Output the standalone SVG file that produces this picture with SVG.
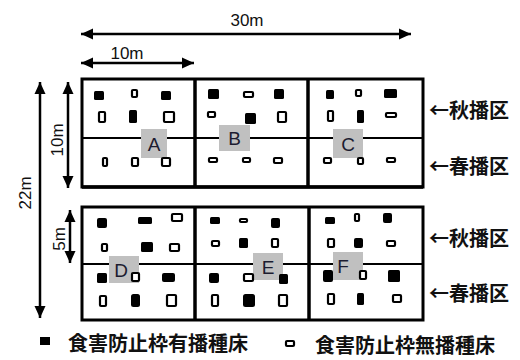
<svg xmlns="http://www.w3.org/2000/svg" width="520" height="360" viewBox="0 0 520 360">
<style>
.f{fill:#000}
.o{fill:#fff;stroke:#000;stroke-width:2.2}
.bd{fill:none;stroke:#000;stroke-width:3}
.dv{stroke:#000;stroke-width:3.5}
.md{stroke:#000;stroke-width:2}
.lb{fill:#c0c0c0}
.lt{font-family:"Liberation Sans",Arial,sans-serif;font-size:19px;fill:#1c1c30;text-anchor:middle}
.dm{font-family:"Liberation Sans",Arial,sans-serif;font-size:17px;fill:#111;text-anchor:middle}
.jp{font-family:"Noto Sans CJK JP","Noto Sans CJK SC",sans-serif;font-size:20px;font-weight:bold;fill:#111}
.ar{stroke:#000;stroke-width:2.5;fill:none;marker-start:url(#ah);marker-end:url(#ah)}
</style>
<defs>
<marker id="ah" viewBox="0 0 12 12" refX="12" refY="6" markerWidth="12" markerHeight="12" markerUnits="userSpaceOnUse" orient="auto-start-reverse">
<path d="M0,0.5 L12,6 L0,11.5 z" fill="#000"/>
</marker>
</defs>
<rect width="520" height="360" fill="#fff"/>

<g id="grid">
<rect class="bd" x="82" y="79" width="341" height="108"/>
<line class="md" x1="82" y1="138" x2="423" y2="138"/>
<line class="dv" x1="195" y1="79" x2="195" y2="187"/>
<line class="dv" x1="308" y1="79" x2="308" y2="187"/>
<line class="dv" x1="82" y1="187" x2="423" y2="187"/>
<rect class="bd" x="82" y="207" width="341" height="113"/>
<line class="md" x1="82" y1="264" x2="423" y2="264"/>
<line class="dv" x1="195" y1="207" x2="195" y2="320"/>
<line class="dv" x1="309" y1="207" x2="309" y2="320"/>
</g>

<g id="labels">
<rect class="lb" x="141" y="129" width="26" height="29"/><text class="lt" x="154" y="151">A</text>
<rect class="lb" x="219" y="125" width="31" height="26"/><text class="lt" x="234.5" y="145">B</text>
<rect class="lb" x="333" y="129" width="30" height="29"/><text class="lt" x="348" y="151">C</text>
<rect class="lb" x="109" y="256" width="30" height="27"/><text class="lt" x="121" y="277">D</text>
<rect class="lb" x="253" y="253" width="30" height="27"/><text class="lt" x="268" y="274">E</text>
<rect class="lb" x="333" y="252" width="30" height="28"/><text class="lt" x="343" y="273">F</text>
</g>

<g id="plotA">
<rect class="f" x="94" y="91" width="10" height="9" rx="1.5"/>
<rect class="o" x="132" y="90" width="5" height="7" rx="1"/>
<rect class="f" x="161" y="91" width="10" height="9" rx="1.5"/>
<rect class="o" x="99" y="112" width="6" height="10" rx="1"/>
<rect class="f" x="129" y="110" width="8" height="13" rx="1.5"/>
<rect class="o" x="164" y="112" width="10" height="10" rx="1"/>
<rect class="o" x="103" y="158" width="4" height="8" rx="1"/>
<rect class="o" x="132" y="158" width="6" height="8" rx="1"/>
<rect class="o" x="162" y="158" width="8" height="8" rx="1"/>
</g>
<g id="plotB">
<rect class="f" x="208" y="89" width="11" height="10" rx="1.5"/>
<rect class="o" x="244" y="92" width="9" height="5" rx="1"/>
<rect class="f" x="274" y="89" width="10" height="10" rx="1.5"/>
<rect class="o" x="208" y="112" width="7" height="5" rx="1"/>
<rect class="f" x="245" y="113" width="11" height="11" rx="1.5"/>
<rect class="o" x="278" y="112" width="8" height="10" rx="1"/>
<rect class="o" x="209" y="158" width="8" height="4" rx="1"/>
<rect class="o" x="243" y="158" width="7" height="4" rx="1"/>
<rect class="o" x="274" y="158" width="8" height="5" rx="1"/>
</g>
<g id="plotC">
<rect class="f" x="326" y="90" width="8" height="9" rx="1.5"/>
<rect class="o" x="356" y="90" width="5" height="6" rx="1"/>
<rect class="f" x="384" y="89" width="13" height="9" rx="1.5"/>
<rect class="o" x="328" y="111" width="5" height="10" rx="1"/>
<rect class="f" x="357" y="110" width="7" height="13" rx="1.5"/>
<rect class="o" x="386" y="113" width="10" height="4" rx="1"/>
<rect class="o" x="324" y="158" width="7" height="5" rx="1"/>
<rect class="o" x="358" y="158" width="5" height="6" rx="1"/>
<rect class="o" x="387" y="158" width="8" height="4" rx="1"/>
</g>
<g id="plotD">
<rect class="f" x="97" y="218" width="10" height="10" rx="2"/>
<rect class="f" x="138" y="217" width="14" height="7" rx="1.5"/>
<rect class="o" x="172" y="214" width="10" height="7" rx="1"/>
<rect class="o" x="102" y="244" width="5" height="7" rx="1"/>
<rect class="f" x="141" y="242" width="12" height="10" rx="1.5"/>
<rect class="o" x="170" y="244" width="9" height="7" rx="1"/>
<rect class="f" x="97" y="273" width="10" height="10" rx="1.5"/>
<rect class="o" x="132" y="273" width="7" height="8" rx="1"/>
<rect class="f" x="162" y="273" width="13" height="9" rx="2"/>
<rect class="o" x="100" y="296" width="6" height="10" rx="1"/>
<rect class="f" x="131" y="294" width="9" height="13" rx="2.5"/>
<rect class="o" x="167" y="295" width="9" height="11" rx="1"/>
</g>
<g id="plotE">
<rect class="f" x="210" y="217" width="10" height="7" rx="1.5"/>
<rect class="o" x="240" y="219" width="7" height="3" rx="1"/>
<rect class="f" x="271" y="218" width="9" height="10" rx="2"/>
<rect class="o" x="212" y="241" width="7" height="5" rx="1"/>
<rect class="f" x="239" y="238" width="9" height="10" rx="1.5"/>
<rect class="o" x="272" y="239" width="6" height="8" rx="1"/>
<rect class="f" x="209" y="273" width="10" height="10" rx="2"/>
<rect class="o" x="244" y="274" width="9" height="7" rx="1"/>
<rect class="f" x="279" y="274" width="9" height="10" rx="1.5"/>
<rect class="o" x="212" y="295" width="6" height="11" rx="1"/>
<rect class="f" x="243" y="294" width="12" height="13" rx="2.5"/>
<rect class="o" x="279" y="295" width="8" height="11" rx="1"/>
</g>
<g id="plotF">
<rect class="f" x="325" y="217" width="10" height="7" rx="1.5"/>
<rect class="o" x="355" y="214" width="4" height="7" rx="1"/>
<rect class="f" x="383" y="213" width="9" height="10" rx="2"/>
<rect class="o" x="328" y="239" width="6" height="8" rx="1"/>
<rect class="f" x="354" y="238" width="9" height="10" rx="2"/>
<rect class="o" x="387" y="241" width="8" height="5" rx="1"/>
<rect class="f" x="323" y="270" width="10" height="12" rx="2"/>
<rect class="o" x="360" y="271" width="6" height="8" rx="1"/>
<rect class="f" x="388" y="270" width="12" height="12" rx="1.5"/>
<rect class="o" x="328" y="294" width="6" height="10" rx="1"/>
<rect class="f" x="357" y="293" width="7" height="12" rx="1.5"/>
<rect class="o" x="393" y="295" width="8" height="7" rx="1"/>
</g>

<g id="connectors">
<line class="ar" x1="81" y1="34" x2="411" y2="34"/>
<line class="ar" x1="81" y1="63" x2="194" y2="63"/>
<line class="ar" x1="40" y1="82" x2="40" y2="318"/>
<line class="ar" x1="68" y1="82" x2="68" y2="188"/>
<line class="ar" x1="70" y1="210" x2="70" y2="263"/>
</g>

<g id="dimensions">
<text class="dm" x="247" y="26">30m</text>
<text class="dm" x="127" y="59">10m</text>
<text class="dm" transform="translate(31,193) rotate(-90)">22m</text>
<text class="dm" transform="translate(63,140) rotate(-90)">10m</text>
<text class="dm" transform="translate(65,239) rotate(-90)">5m</text>
</g>

<g id="zones">
<text class="jp" x="429" y="118">←秋播区</text>
<text class="jp" x="429" y="174">←春播区</text>
<text class="jp" x="429" y="246">←秋播区</text>
<text class="jp" x="429" y="301">←春播区</text>
</g>

<g id="legend">
<rect class="f" x="40" y="337" width="10" height="8"/>
<text class="jp" x="68" y="351">食害防止枠有播種床</text>
<rect class="o" x="286" y="341" width="8" height="5" rx="1"/>
<text class="jp" x="315" y="353">食害防止枠無播種床</text>
</g>
</svg>
